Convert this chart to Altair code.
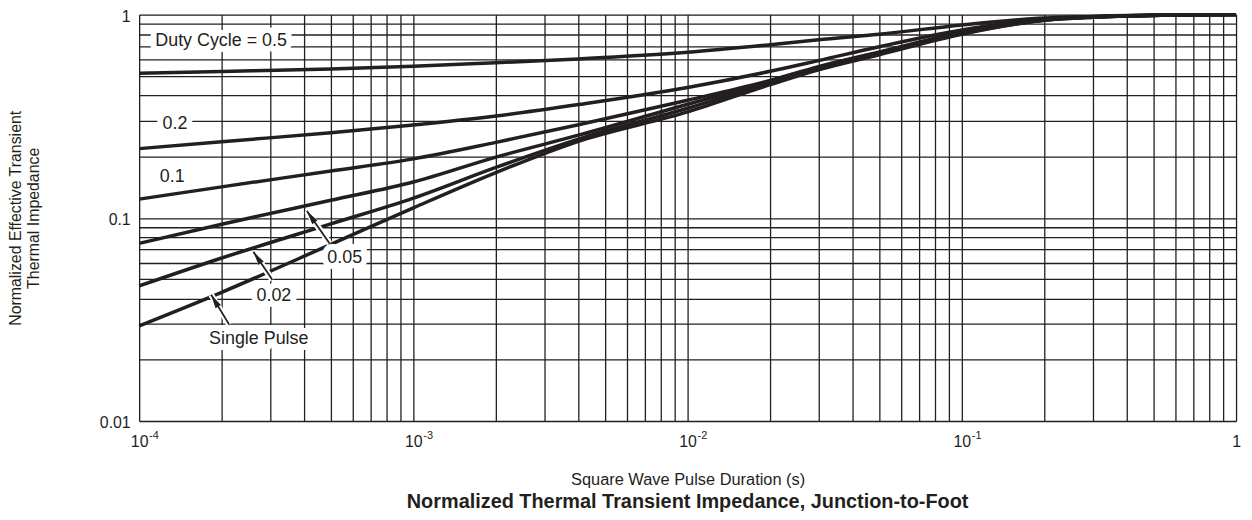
import altair as alt
import pandas as pd

# ---- data ----
t_pts = [1e-4, 2e-4, 5e-4, 1e-3, 2e-3, 4e-3, 1e-2, 2e-2, 3e-2, 5e-2, 1e-1, 2e-1, 3e-1, 5e-1, 1.0]
z_d05 = [0.515, 0.525, 0.540, 0.557, 0.580, 0.605, 0.652, 0.711, 0.752, 0.800, 0.890, 0.963, 0.980, 0.995, 1.0]
z_d02 = [0.219, 0.237, 0.262, 0.286, 0.317, 0.361, 0.438, 0.526, 0.594, 0.695, 0.840, 0.950, 0.977, 0.993, 1.0]
z_d01 = [0.1236, 0.142, 0.170, 0.195, 0.235, 0.287, 0.379, 0.475, 0.555, 0.655, 0.820, 0.943, 0.973, 0.992, 1.0]
z_d005 = [0.0748, 0.093, 0.122, 0.150, 0.199, 0.255, 0.362, 0.468, 0.548, 0.645, 0.810, 0.940, 0.972, 0.991, 1.0]
z_d002 = [0.0462, 0.0634, 0.0933, 0.125, 0.177, 0.244, 0.346, 0.462, 0.540, 0.640, 0.805, 0.939, 0.971, 0.991, 1.0]
z_single = [0.0294, 0.043, 0.074, 0.112, 0.167, 0.238, 0.332, 0.452, 0.535, 0.635, 0.800, 0.937, 0.970, 0.990, 1.0]
series_names = ["0.5", "0.2", "0.1", "0.05", "0.02", "Single Pulse"]
series_vals = [z_d05, z_d02, z_d01, z_d005, z_d002, z_single]

# annotation labels
label_text = ["Duty Cycle = 0.5", "0.2", "0.1", "0.05", "0.02", "Single Pulse"]
label_t = [1.99e-4, 1.35e-4, 1.32e-4, 5.62e-4, 3.10e-4, 2.73e-4]
label_z = [0.744, 0.291, 0.158, 0.0631, 0.0413, 0.0254]

# arrows (tail -> head)
arrow_tail_t = [4.95e-4, 3.06e-4, 2.13e-4]
arrow_tail_z = [0.0748, 0.0495, 0.0298]
arrow_head_t = [4.09e-4, 2.61e-4, 1.83e-4]
arrow_head_z = [0.108, 0.068, 0.0418]
arrow_angle = [325, 326, 329]

# axis ticks
x_decades = [1e-4, 1e-3, 1e-2, 1e-1]
x_exponents = ["-4", "-3", "-2", "-1"]
x_grid = [round(k * 10.0 ** d, 8) for d in range(-4, 0) for k in range(1, 10)] + [1.0]
y_grid = [round(k * 10.0 ** d, 8) for d in range(-2, 0) for k in range(1, 10)] + [1.0]

INK = "#231f20"
FONT = "Liberation Sans"

rows = []
for name, vals in zip(series_names, series_vals):
    for t, z in zip(t_pts, vals):
        rows.append({"t": t, "z": z, "series": name})
curves = pd.DataFrame(rows)

labels_df = pd.DataFrame({"t": label_t, "z": label_z, "text": label_text})
arrows_df = pd.DataFrame({"t": arrow_tail_t, "z": arrow_tail_z,
                          "t2": arrow_head_t, "z2": arrow_head_z, "angle": arrow_angle})
exp_df = pd.DataFrame({"t": x_decades, "z": [0.01] * len(x_decades), "e": x_exponents})

xscale = alt.Scale(type="log", domain=[1e-4, 1], nice=False)
yscale = alt.Scale(type="log", domain=[0.01, 1], nice=False)

is_decade = "abs(log(datum.value)/LN10 - round(log(datum.value)/LN10)) < 1e-6"

x_axis = alt.Axis(
    values=x_grid, grid=True, gridColor=INK, gridWidth=1.3, gridOpacity=1,
    ticks=False, domain=False, labelOverlap=False, labelFlush=False, labelBound=False,
    labelExpr=f"{is_decade} ? (datum.value >= 1 ? '1' : '10') : ''",
    labelFont=FONT, labelFontSize=16, labelColor=INK, labelPadding=13,
    title="Square Wave Pulse Duration (s)", titleFont=FONT, titleFontSize=16.5,
    titleFontWeight="normal", titleColor=INK, titlePadding=22,
)
y_axis = alt.Axis(
    values=y_grid, grid=True, gridColor=INK, gridWidth=1.3, gridOpacity=1,
    ticks=False, domain=False, labelOverlap=False, labelFlush=False, labelBound=False,
    labelExpr=f"{is_decade} ? format(datum.value, '') : ''",
    labelFont=FONT, labelFontSize=16, labelColor=INK, labelPadding=9, labelOffset=2,
    title=["Normalized Effective Transient", "Thermal Impedance"],
    titleFont=FONT, titleFontSize=16, titleFontWeight="normal", titleColor=INK,
    titleLineHeight=18, titlePadding=58,
)

base_x = alt.X("t:Q", scale=xscale, axis=x_axis)
base_y = alt.Y("z:Q", scale=yscale, axis=y_axis)

lines = alt.Chart(curves).mark_line(color=INK, strokeWidth=3.5, interpolate="monotone").encode(
    x=base_x, y=base_y, detail="series:N"
)

label_halo = alt.Chart(labels_df).mark_text(
    font=FONT, fontSize=18, stroke="white", strokeWidth=12, strokeJoin="round",
    fill="white", align="center", baseline="middle"
).encode(x=alt.X("t:Q", scale=xscale), y=alt.Y("z:Q", scale=yscale), text="text:N")

label_txt = alt.Chart(labels_df).mark_text(
    font=FONT, fontSize=18, color=INK, align="center", baseline="middle"
).encode(x=alt.X("t:Q", scale=xscale), y=alt.Y("z:Q", scale=yscale), text="text:N")

arrow_halo = alt.Chart(arrows_df).mark_rule(color="white", strokeWidth=6).encode(
    x=alt.X("t:Q", scale=xscale), y=alt.Y("z:Q", scale=yscale), x2="t2:Q", y2="z2:Q"
)
arrow_shaft = alt.Chart(arrows_df).mark_rule(color=INK, strokeWidth=1.8).encode(
    x=alt.X("t:Q", scale=xscale), y=alt.Y("z:Q", scale=yscale), x2="t2:Q", y2="z2:Q"
)
arrow_head = alt.Chart(arrows_df).mark_point(
    shape="M0,0L0.5,2.2L-0.5,2.2Z", filled=True, color=INK, opacity=1, size=160
).encode(
    x=alt.X("t2:Q", scale=xscale), y=alt.Y("z2:Q", scale=yscale), angle=alt.Angle("angle:Q", scale=None)
)

exps = alt.Chart(exp_df).mark_text(
    font=FONT, fontSize=11, color=INK, align="left", baseline="middle", dx=10, dy=15
).encode(x=alt.X("t:Q", scale=xscale), y=alt.Y("z:Q", scale=yscale), text="e:N")

chart = alt.layer(
    lines, arrow_halo, arrow_shaft, arrow_head, label_halo, label_txt, exps
).properties(
    width=1104, height=409,
    title=alt.TitleParams(
        "Normalized Thermal Transient Impedance, Junction-to-Foot",
        orient="bottom", anchor="middle", font=FONT, fontSize=20, fontWeight="bold",
        color=INK, offset=4,
    ),
    padding={"left": 132, "top": 5, "right": 8, "bottom": 98},
    autosize=alt.AutoSizeParams(type="none"),
).configure_view(
    stroke=INK, strokeWidth=2.5
).configure(background="white")

chart.save("out.html", embed_options={"renderer": "svg", "actions": False})
